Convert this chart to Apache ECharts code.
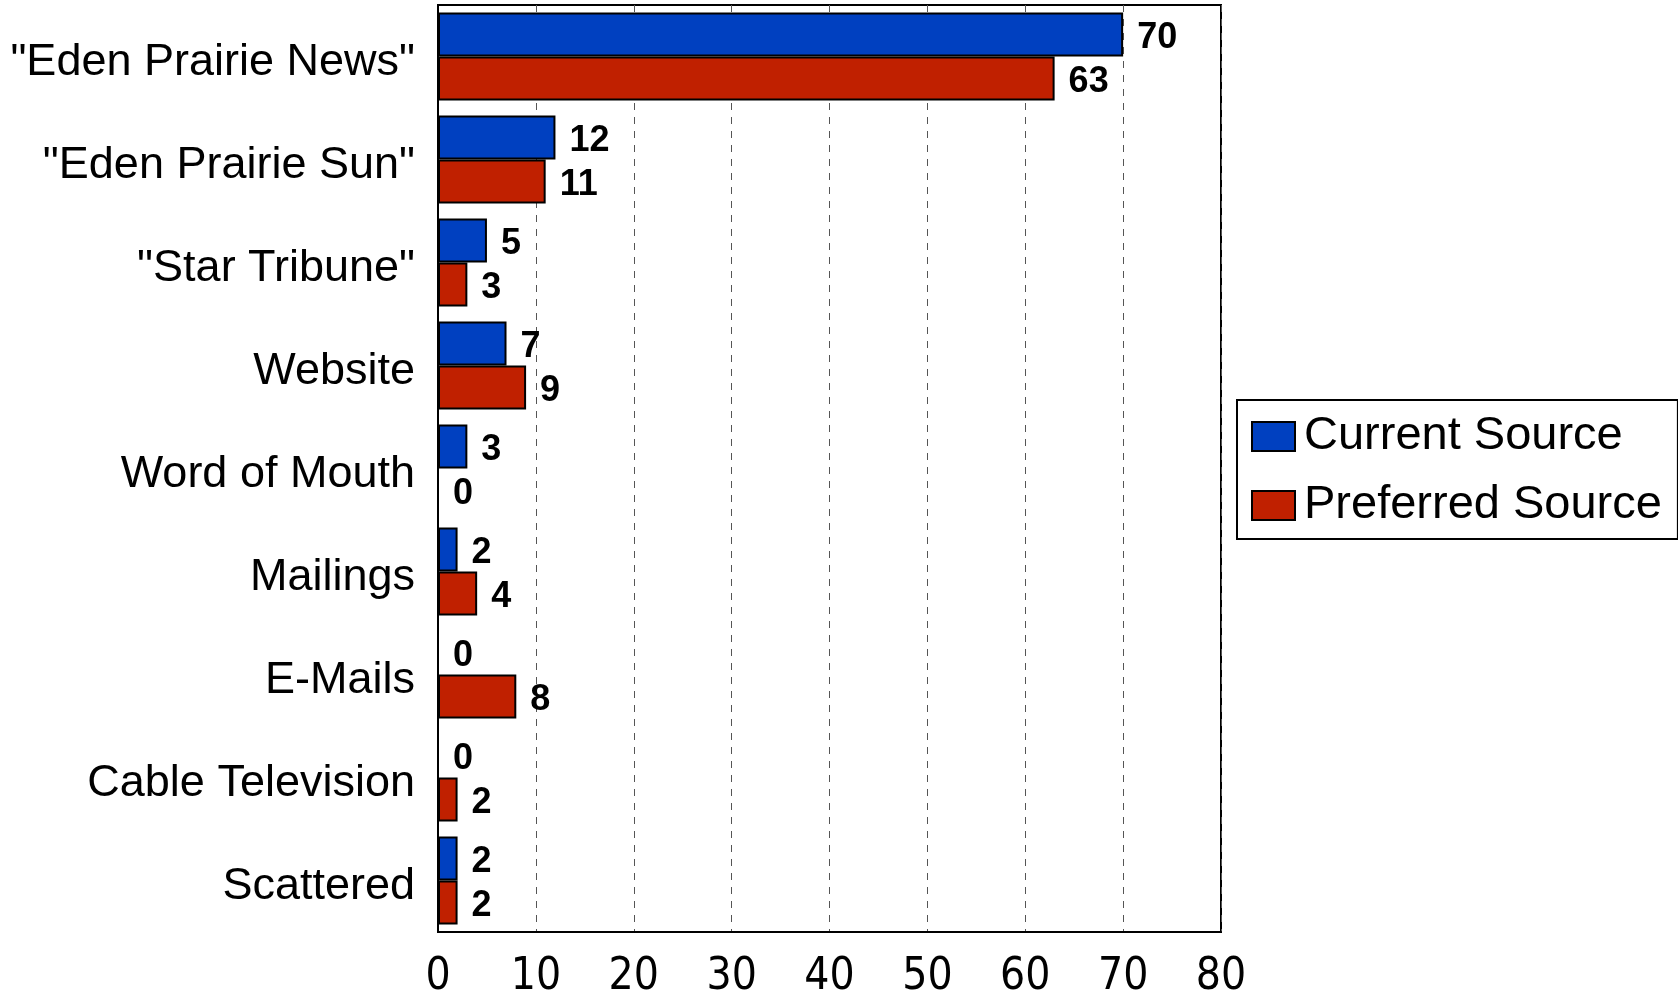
<!DOCTYPE html>
<html>
<head>
<meta charset="utf-8">
<script src="https://cdn.jsdelivr.net/npm/echarts@6/dist/echarts.min.js"></script>
<style>
html,body{margin:0;padding:0;background:#fff;}
#chart{width:1678px;height:995px;}
</style>
</head>
<body>
<div id="chart"></div>
<script>
var categories = ['"Eden Prairie News"', '"Eden Prairie Sun"', '"Star Tribune"', 'Website', 'Word of Mouth', 'Mailings', 'E-Mails', 'Cable Television', 'Scattered'];
var currentSource = [70, 12, 5, 7, 3, 2, 0, 0, 2];
var preferredSource = [63, 11, 3, 9, 0, 4, 8, 2, 2];
var seriesNames = ['Current Source', 'Preferred Source'];
var xTicks = [0, 10, 20, 30, 40, 50, 60, 70, 80];

var FONT = '"Liberation Sans", Arial, sans-serif';
var chart = echarts.init(document.getElementById('chart'), null, {renderer: 'canvas'});
var labelStyle = {
  show: true, position: 'right', distance: 14, offset: [0, 4],
  fontFamily: FONT, fontWeight: 'bold', fontSize: 36, color: '#000'
};
chart.setOption({
  animation: false,
  backgroundColor: '#fff',
  grid: {
    left: 438, top: 5, width: 783, height: 927,
    outerBoundsMode: 'none', containLabel: false,
    show: true, borderColor: '#000', borderWidth: 2, backgroundColor: 'transparent'
  },
  legend: {
    orient: 'vertical',
    left: 1237, top: 400,
    data: seriesNames,
    icon: 'rect',
    itemWidth: 43, itemHeight: 29, itemGap: 22,
    padding: [13, 16, 10, 14],
    borderColor: '#000', borderWidth: 2,
    textStyle: {fontFamily: FONT, fontSize: 47, color: '#000', padding: [4, 0, 0, 4]}
  },
  xAxis: {
    type: 'value', min: xTicks[0], max: xTicks[xTicks.length - 1], interval: 10,
    axisLine: {show: true, lineStyle: {color: '#000', width: 2}},
    axisTick: {show: false},
    splitLine: {show: true, lineStyle: {color: '#555', width: 1, type: [7, 7]}},
    axisLabel: {
      fontFamily: '"Liberation Sans Narrow", "Arial Narrow", "DejaVu Sans Condensed", sans-serif',
      fontSize: 44, color: '#000', margin: 24
    }
  },
  yAxis: {
    type: 'category', data: categories, inverse: true,
    axisLine: {show: true, lineStyle: {color: '#000', width: 2}},
    axisTick: {show: false},
    axisLabel: {
      fontFamily: FONT, fontSize: 45, color: '#000', margin: 23,
      formatter: function (v) { return '{c|' + v + '}'; },
      rich: {c: {fontFamily: FONT, fontSize: 45, color: '#000', padding: [12, 0, 0, 0]}}
    }
  },
  series: [
    {
      name: seriesNames[0], type: 'bar', data: currentSource,
      barGap: '0%', barCategoryGap: '14.5%',
      itemStyle: {color: '#0040C0', borderColor: '#000', borderWidth: 2},
      label: labelStyle
    },
    {
      name: seriesNames[1], type: 'bar', data: preferredSource,
      barGap: '0%', barCategoryGap: '14.5%',
      itemStyle: {color: '#C02000', borderColor: '#000', borderWidth: 2},
      label: labelStyle
    }
  ]
});
</script>
</body>
</html>
